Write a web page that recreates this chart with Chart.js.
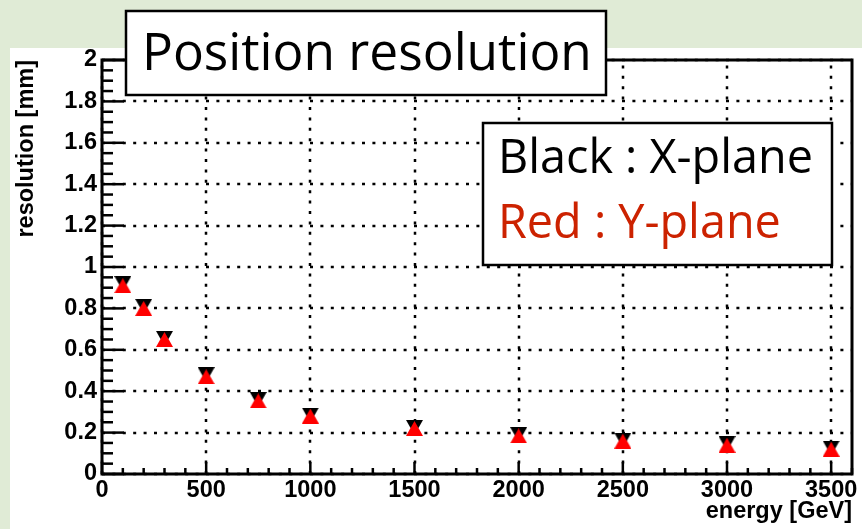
<!DOCTYPE html>
<html>
<head>
<meta charset="utf-8">
<script src="https://cdn.jsdelivr.net/npm/chart.js@4/dist/chart.umd.min.js"></script>
<style>
  html, body { margin: 0; padding: 0; background: #e0ebd6; }
  #c { display: block; }
</style>
</head>
<body>
<canvas id="c" width="862" height="529"></canvas>
<script>
// Beam energies and measured position resolution per plane
const energies = [100, 200, 300, 500, 750, 1000, 1500, 2000, 2500, 3000, 3500];
const xPlaneRes = [0.92, 0.81, 0.655, 0.48, 0.36, 0.285, 0.225, 0.19, 0.163, 0.147, 0.125];
const yPlaneRes = [0.91, 0.80, 0.65, 0.47, 0.353, 0.28, 0.22, 0.184, 0.159, 0.139, 0.12];

// Axis ticks and labels
const xTicks = [0, 500, 1000, 1500, 2000, 2500, 3000, 3500];
const xTickLabels = ['0', '500', '1000', '1500', '2000', '2500', '3000', '3500'];
const yTicks = [0, 0.2, 0.4, 0.6, 0.8, 1, 1.2, 1.4, 1.6, 1.8, 2];
const yTickLabels = ['0', '0.2', '0.4', '0.6', '0.8', '1', '1.2', '1.4', '1.6', '1.8', '2'];

const titleText = 'Position resolution';
const legendLines = ['Black : X-plane', 'Red : Y-plane'];

const PAGE_GREEN = '#e0ebd6';
const LEGEND_RED = '#cc2200';
const AXIS_FONT = '"Liberation Sans", Arial, Helvetica, sans-serif';
const BOX_FONT = '"Open Sans", "Noto Sans", sans-serif';

// Triangle markers centred on their bounding box
function triangleMarker(color, pointingUp) {
  const w = 17, h = 15;
  const cv = document.createElement('canvas');
  cv.width = w; cv.height = h;
  const g = cv.getContext('2d');
  g.fillStyle = color;
  g.beginPath();
  if (pointingUp) {
    g.moveTo(0, h); g.lineTo(w, h); g.lineTo(w / 2, 0);
  } else {
    g.moveTo(0, 0); g.lineTo(w, 0); g.lineTo(w / 2, h);
  }
  g.closePath();
  g.fill();
  return cv;
}

function fitFont(ctx, text, family, weight, targetWidth) {
  ctx.font = weight + ' 100px ' + family;
  return 100 * targetWidth / ctx.measureText(text).width;
}

const decorations = {
  id: 'decorations',
  beforeDraw(chart) {
    const ctx = chart.ctx;
    ctx.save();
    ctx.fillStyle = PAGE_GREEN;
    ctx.fillRect(0, 0, chart.width, chart.height);
    ctx.fillStyle = '#ffffff';
    ctx.fillRect(10, 48, chart.width - 10, chart.height - 48);
    ctx.restore();
  },
  beforeDatasetsDraw(chart) {
    const ctx = chart.ctx;
    const a = chart.chartArea;
    const xs = chart.scales.x, ys = chart.scales.y;
    ctx.save();

    // dotted grid at major ticks
    ctx.strokeStyle = '#000';
    ctx.lineWidth = 2.5;
    ctx.setLineDash([3, 7.4]);
    yTicks.forEach(v => {
      const y = Math.round(ys.getPixelForValue(v));
      ctx.beginPath(); ctx.moveTo(a.left, y); ctx.lineTo(a.right, y); ctx.stroke();
    });
    xTicks.forEach(v => {
      const x = Math.round(xs.getPixelForValue(v));
      ctx.beginPath(); ctx.moveTo(x, a.bottom); ctx.lineTo(x, a.top); ctx.stroke();
    });
    ctx.setLineDash([]);

    // inward tick marks
    ctx.lineWidth = 2.5;
    for (let i = 0; i <= 40; i++) {
      const v = i * 0.05;
      const y = ys.getPixelForValue(v);
      const len = (i % 4 === 0) ? 22 : 11;
      ctx.beginPath(); ctx.moveTo(a.left, y); ctx.lineTo(a.left + len, y); ctx.stroke();
    }
    for (let i = 0; i <= 36; i++) {
      const v = i * 100;
      const x = xs.getPixelForValue(v);
      const len = (i % 5 === 0) ? 12 : 6;
      ctx.beginPath(); ctx.moveTo(x, a.bottom); ctx.lineTo(x, a.bottom - len); ctx.stroke();
    }

    // frame
    ctx.lineWidth = 3;
    ctx.strokeRect(a.left, a.top, a.right - a.left, a.bottom - a.top);

    // axis titles
    ctx.fillStyle = '#000';
    ctx.font = 'bold 23.5px ' + AXIS_FONT;
    ctx.textAlign = 'right';
    ctx.textBaseline = 'alphabetic';
    ctx.fillText('energy [GeV]', a.right, 518);
    ctx.translate(33, a.top);
    ctx.rotate(-Math.PI / 2);
    ctx.fillText('resolution [mm]', 0, 0);
    ctx.restore();
  },
  afterDraw(chart) {
    const ctx = chart.ctx;
    ctx.save();

    // title box
    ctx.fillStyle = '#ffffff';
    ctx.fillRect(126, 11, 480, 84);
    ctx.strokeStyle = '#000';
    ctx.lineWidth = 2.5;
    ctx.strokeRect(126, 11, 480, 84);
    const tSize = fitFont(ctx, titleText, BOX_FONT, 'normal', 450);
    ctx.font = 'normal ' + tSize + 'px ' + BOX_FONT;
    ctx.fillStyle = '#000';
    ctx.textAlign = 'left';
    ctx.textBaseline = 'alphabetic';
    ctx.fillText(titleText, 142, 70);

    // legend box
    ctx.fillStyle = '#ffffff';
    ctx.fillRect(483, 123, 349, 142);
    ctx.strokeRect(483, 123, 349, 142);
    const lSize = fitFont(ctx, legendLines[0], BOX_FONT, 'normal', 315);
    ctx.font = 'normal ' + lSize + 'px ' + BOX_FONT;
    ctx.fillStyle = '#000';
    ctx.fillText(legendLines[0], 498, 173);
    ctx.fillStyle = LEGEND_RED;
    ctx.fillText(legendLines[1], 498, 238);
    ctx.restore();
  }
};

const downBlack = triangleMarker('#000000', false);
const upRed = triangleMarker('#ff0000', true);

new Chart(document.getElementById('c'), {
  type: 'scatter',
  data: {
    datasets: [
      {
        label: 'X-plane',
        data: energies.map((e, i) => ({ x: e, y: xPlaneRes[i] })),
        pointStyle: downBlack,
        pointRadius: 8,
        order: 2
      },
      {
        label: 'Y-plane',
        data: energies.map((e, i) => ({ x: e, y: yPlaneRes[i] })),
        pointStyle: upRed,
        pointRadius: 8,
        order: 1
      }
    ]
  },
  options: {
    responsive: false,
    animation: false,
    devicePixelRatio: 1,
    layout: { padding: { left: 0, top: 60, right: 10, bottom: 0 } },
    plugins: { legend: { display: false }, tooltip: { enabled: false }, title: { display: false } },
    scales: {
      x: {
        type: 'linear',
        min: 0,
        max: 3600,
        afterBuildTicks: s => { s.ticks = xTicks.map(v => ({ value: v })); },
        afterFit: s => { s.height = 55; },
        grid: { display: false, drawTicks: false },
        border: { display: false },
        ticks: {
          autoSkip: false,
          maxRotation: 0,
          padding: 2,
          color: '#000',
          font: { family: AXIS_FONT, size: 23.5, weight: 'bold' },
          callback: (v, i) => xTickLabels[i]
        }
      },
      y: {
        type: 'linear',
        min: 0,
        max: 2,
        afterBuildTicks: s => { s.ticks = yTicks.map(v => ({ value: v })); },
        afterFit: s => { s.width = 102; },
        grid: { display: false, drawTicks: false },
        border: { display: false },
        ticks: {
          autoSkip: false,
          padding: 5,
          color: '#000',
          font: { family: AXIS_FONT, size: 23.5, weight: 'bold' },
          callback: (v, i) => yTickLabels[i]
        }
      }
    }
  },
  plugins: [decorations]
});
</script>
</body>
</html>
